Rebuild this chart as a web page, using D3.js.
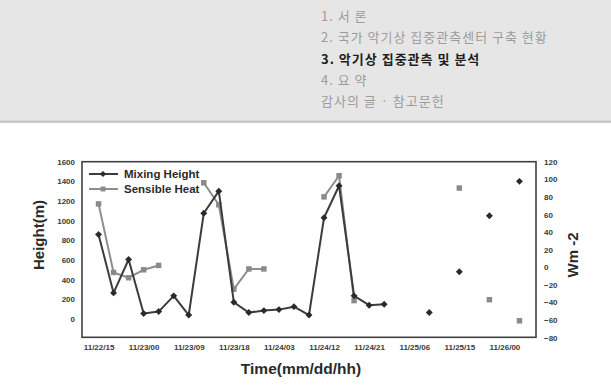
<!DOCTYPE html>
<html>
  <head>
    <title>mixing height</title>
    <meta http-equiv="Content-Type" content="text/html; charset=UTF-8">
    <script src="https://d3js.org/d3.v7.min.js"></script>
    <style>
      body { margin: 0; background: #fff; }
    </style>
  </head>

  <body>

    <div id="chart">
    </div>

    <script>
      // menu lines in the grey header
      var menuItems = ["1. 서 론", "2. 국가 악기상 집중관측센터 구축 현황", "3. 악기상 집중관측 및 분석", "4. 요 약", "감사의 글 · 참고문헌"];
      var activeItem = 2;

      // 3-hourly categories, 11/22/15 .. 11/26/03
      var categories = ["11/22/15", "11/22/18", "11/22/21", "11/23/00", "11/23/03", "11/23/06", "11/23/09", "11/23/12",
        "11/23/15", "11/23/18", "11/23/21", "11/24/00", "11/24/03", "11/24/06", "11/24/09", "11/24/12",
        "11/24/15", "11/24/18", "11/24/21", "11/25/00", "11/25/03", "11/25/06", "11/25/09", "11/25/12",
        "11/25/15", "11/25/18", "11/25/21", "11/26/00", "11/26/03"];
      var tickLabels = ["11/22/15", "11/23/00", "11/23/09", "11/23/18", "11/24/03", "11/24/12", "11/24/21", "11/25/06", "11/25/15", "11/26/00"];

      var mixingHeight = [860, 265, 605, 55, 75, 235, 40, 1075, 1300, 170, 65, 85, 95, 125, 40, 1030, 1355, 235, 140, 150,
        null, null, 65, null, 480, null, 1050, null, 1400];
      var sensibleHeat = [72, -6, -12, -3, 2, null, null, 96, 71, -25, -2, -2, null, null, null, 80, 104, -38, null, null,
        null, null, null, null, 90, null, -37, null, -61];

      var leftTicks = [0, 200, 400, 600, 800, 1000, 1200, 1400, 1600];
      var rightTicks = [-80, -60, -40, -20, 0, 20, 40, 60, 80, 100, 120];

      var W = 611, H = 385;
      var box = { left: 82, right: 536, top: 161.7, bottom: 337.3 };

      var svg = d3.select("#chart").append("svg").attr("width", W).attr("height", H);

      // header
      svg.append("rect").attr("x", 0).attr("y", 0).attr("width", W).attr("height", 121).attr("fill", "#e6e6e6");
      svg.append("rect").attr("x", 0).attr("y", 120.5).attr("width", W).attr("height", 2.5).attr("fill", "#c9c9c9");
      svg.append("g").selectAll("text").data(menuItems).join("text")
        .attr("x", 321)
        .attr("y", function(d, i) { return 15.5 + i * 21.3; })
        .attr("dominant-baseline", "central")
        .style("font-family", "'Noto Sans CJK KR', 'Noto Sans', sans-serif")
        .style("font-size", "13px")
        .style("letter-spacing", "1px")
        .style("font-weight", function(d, i) { return i == activeItem ? "bold" : "normal"; })
        .attr("fill", function(d, i) { return i == activeItem ? "#1e1e1e" : "#9c9c9c"; })
        .text(function(d) { return d; });

      var x = d3.scalePoint().domain(categories).range([box.left, box.right]).padding(1.1);
      var yL = d3.scaleLinear().domain([-200, 1600]).range([338.6, 161.7]);
      var yR = d3.scaleLinear().domain([-80, 120]).range([337.5, 161.7]);

      var font = "Arial, 'Liberation Sans', sans-serif";

      // plot frame
      svg.append("rect").attr("x", box.left).attr("y", box.top)
        .attr("width", box.right - box.left).attr("height", box.bottom - box.top)
        .attr("fill", "#fff").attr("stroke", "#404040").attr("stroke-width", 1.6);

      var axL = svg.append("g").attr("transform", "translate(" + box.left + ",0)")
        .call(d3.axisLeft(yL).tickValues(leftTicks).tickFormat(d3.format("d")).tickSize(0).tickPadding(7));
      var axR = svg.append("g").attr("transform", "translate(" + box.right + ",0)")
        .call(d3.axisRight(yR).tickValues(rightTicks).tickFormat(d3.format("d")).tickSize(0).tickPadding(8));
      var axB = svg.append("g").attr("transform", "translate(0," + box.bottom + ")")
        .call(d3.axisBottom(x).tickValues(tickLabels).tickSize(0).tickPadding(7));
      [axL, axR, axB].forEach(function(a) {
        a.select(".domain").remove();
        a.selectAll("text").style("font-family", font).style("font-size", "8px")
          .style("font-weight", "bold").attr("fill", "#3a3a3a");
      });

      // axis titles
      svg.append("text").attr("transform", "translate(44,235) rotate(-90)")
        .attr("text-anchor", "middle").style("font-family", font).style("font-size", "15px")
        .style("font-weight", "bold").attr("fill", "#2a2a2a").text("Height(m)");
      svg.append("text").attr("transform", "translate(578,255) rotate(-90)")
        .attr("text-anchor", "middle").style("font-family", font).style("font-size", "15px")
        .style("font-weight", "bold").attr("fill", "#2a2a2a").text("Wm -2");
      svg.append("text").attr("x", 301).attr("y", 374)
        .attr("text-anchor", "middle").style("font-family", font).style("font-size", "15.5px")
        .style("font-weight", "bold").attr("fill", "#2a2a2a").text("Time(mm/dd/hh)");

      var series = [
        { name: "Mixing Height", values: mixingHeight, y: yL, line: "#3c3c3c", mark: "#2a2a2a", rot: 45, size: 24 },
        { name: "Sensible Heat", values: sensibleHeat, y: yR, line: "#8e8e8e", mark: "#8a8a8a", rot: 0, size: 30 }
      ];

      // legend
      var leg = svg.append("g");
      series.forEach(function(s, i) {
        var ly = 174 + i * 15;
        leg.append("line").attr("x1", 89).attr("x2", 118).attr("y1", ly).attr("y2", ly)
          .attr("stroke", s.line).attr("stroke-width", 2);
        leg.append("path").attr("d", d3.symbol().type(d3.symbolSquare).size(s.size * 0.8)())
          .attr("transform", "translate(103," + ly + ") rotate(" + s.rot + ")").attr("fill", s.mark);
        leg.append("text").attr("x", 124).attr("y", ly).attr("dominant-baseline", "central")
          .style("font-family", font).style("font-size", "11.5px").style("font-weight", "bold")
          .attr("fill", "#2a2a2a").text(s.name);
      });

      // series, drawn from the last to the first so Mixing Height sits on top
      series.slice().reverse().forEach(function(s) {
        var pts = s.values.map(function(v, i) { return { c: categories[i], v: v }; });
        var line = d3.line()
          .defined(function(d) { return d.v != null; })
          .x(function(d) { return x(d.c); })
          .y(function(d) { return s.y(d.v); });
        var g = svg.append("g");
        g.append("path").datum(pts).attr("d", line)
          .attr("fill", "none").attr("stroke", s.line).attr("stroke-width", 2).attr("stroke-linejoin", "round");
        g.selectAll("path.m").data(pts.filter(function(d) { return d.v != null; })).join("path")
          .attr("class", "m")
          .attr("d", d3.symbol().type(d3.symbolSquare).size(s.size)())
          .attr("transform", function(d) { return "translate(" + x(d.c) + "," + s.y(d.v) + ") rotate(" + s.rot + ")"; })
          .attr("fill", s.mark);
      });
    </script>
  </body>
</html>
